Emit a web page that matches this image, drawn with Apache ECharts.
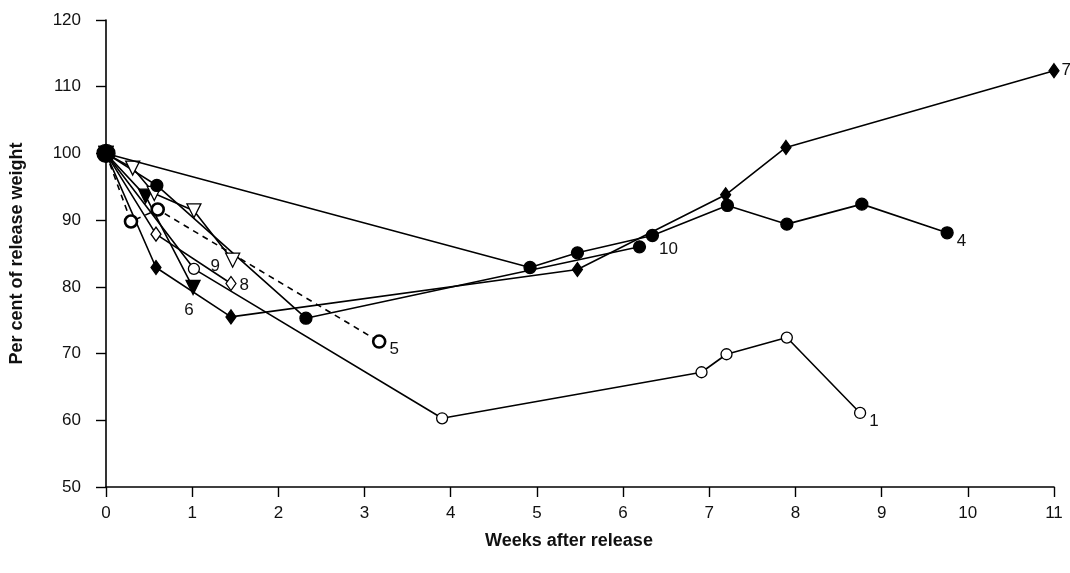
<!DOCTYPE html>
<html>
<head>
<meta charset="utf-8">
<script src="https://cdn.jsdelivr.net/npm/echarts@6/dist/echarts.min.js"></script>
<style>html,body{margin:0;padding:0;background:#fff}#c{width:1070px;height:573px}</style>
</head>
<body>
<div id="c"></div>
<script>
// Weeks after release (x) and per cent of release weight (y), per animal
var s1x = [0, 1.02, 3.90, 6.91, 7.20, 7.90, 8.75];
var s1y = [100, 82.7, 60.3, 67.2, 69.9, 72.4, 61.1];
var s4x = [0, 4.92, 5.47, 6.34, 7.21, 7.90, 8.77, 9.76];
var s4y = [100, 82.9, 85.1, 87.7, 92.2, 89.4, 92.4, 88.1];
var s5x = [0, 0.29, 0.60, 3.17];
var s5y = [100, 89.8, 91.6, 71.8];
var s6x = [0, 0.46, 1.01];
var s6y = [100, 93.6, 79.9];
var s7x = [0, 0.58, 1.45, 5.47, 7.19, 7.89, 11.0];
var s7y = [100, 82.9, 75.5, 82.6, 93.8, 100.9, 112.4];
var s8x = [0, 0.58, 1.45];
var s8y = [100, 87.9, 80.5];
var s9x = [0, 0.31, 0.56, 1.02, 1.47];
var s9y = [100, 97.8, 94.0, 91.4, 84.0];
var s10x = [0, 0.59, 2.32, 6.19];
var s10y = [100, 95.2, 75.3, 86.0];
var seriesNames = ['1', '5', '6', '7', '8', '9', '10', '4'];
var xTicks = [0,1,2,3,4,5,6,7,8,9,10,11];
var yTicks = [50,60,70,80,90,100,110,120];

var FONT = '"Liberation Sans", Arial, sans-serif';
function pts(xs, ys) { return xs.map(function (x, i) { return [x, ys[i]]; }); }
function build(name, xs, ys, sym, filled, size, opts) {
  opts = opts || {};
  var data = pts(xs, ys).map(function (p, i) {
    var it = { value: p };
    if (i === 0 && opts.bigOrigin) { it.symbolSize = 18; it.itemStyle = { color: '#000', borderColor: '#000' }; }
    if (i === xs.length - 1) {
      it.label = {
        show: true, formatter: name, position: opts.lpos || 'right',
        offset: opts.loff || [0, 0], color: '#111', fontSize: 17, fontFamily: FONT
      };
    }
    return it;
  });
  return {
    name: name, type: 'line', data: data, symbol: sym, symbolSize: size,
    symbolRotate: opts.rot || 0, showAllSymbol: true, animation: false,
    lineStyle: { color: '#000', width: 1.6, type: opts.dashed ? [6, 5] : 'solid' },
    itemStyle: { color: filled ? '#000' : '#fff', borderColor: '#000', borderWidth: opts.bw || 1.3 },
    emphasis: { disabled: true }, z: opts.z || 2
  };
}

var chart = echarts.init(document.getElementById('c'), null, { renderer: 'canvas' });
chart.setOption({
  backgroundColor: '#fff',
  animation: false,
  grid: { left: 105, right: 16, top: 20, bottom: 86 },
  xAxis: {
    type: 'value', min: xTicks[0], max: xTicks[xTicks.length - 1], interval: 1,
    name: 'Weeks after release', nameLocation: 'middle', nameGap: 45,
    nameTextStyle: { fontFamily: FONT, fontWeight: 'bold', fontSize: 18, color: '#111', padding: [0, 22, 0, 0] },
    axisLine: { lineStyle: { color: '#000', width: 1.6 } },
    axisTick: { length: 10, lineStyle: { color: '#000', width: 1.4 } },
    axisLabel: { margin: 18, fontSize: 17, fontFamily: FONT, color: '#111' },
    splitLine: { show: false }
  },
  yAxis: {
    type: 'value', min: yTicks[0], max: yTicks[yTicks.length - 1], interval: 10,
    name: 'Per cent of release weight', nameLocation: 'middle', nameGap: 80,
    nameTextStyle: { fontFamily: FONT, fontWeight: 'bold', fontSize: 18, color: '#111' },
    axisLine: { lineStyle: { color: '#000', width: 1.6 } },
    axisTick: { length: 10, lineStyle: { color: '#000', width: 1.4 } },
    axisLabel: { margin: 25, fontSize: 17, fontFamily: FONT, color: '#111' },
    splitLine: { show: false }
  },
  series: [
    build(seriesNames[0], s1x, s1y, 'circle', false, 11, { loff: [-2, 8] }),
    build(seriesNames[1], s5x, s5y, 'circle', false, 12, { dashed: true, bw: 2.6, loff: [-2, 8] }),
    build(seriesNames[2], s6x, s6y, 'triangle', true, 14, { rot: 180, lpos: 'bottom', loff: [-4, 2] }),
    build(seriesNames[3], s7x, s7y, 'diamond', true, [10, 14], { loff: [-3, 0] }),
    build(seriesNames[4], s8x, s8y, 'diamond', false, [10, 14], { loff: [-2, 2] }),
    build(seriesNames[5], s9x, s9y, 'triangle', false, 14, { rot: 180, lpos: 'left', loff: [0, 6] }),
    build(seriesNames[6], s10x, s10y, 'circle', true, 12, { loff: [8, 2] }),
    build(seriesNames[7], s4x, s4y, 'circle', true, 12, { bigOrigin: true, loff: [-2, 8], z: 3 })
  ]
});
</script>
</body>
</html>
